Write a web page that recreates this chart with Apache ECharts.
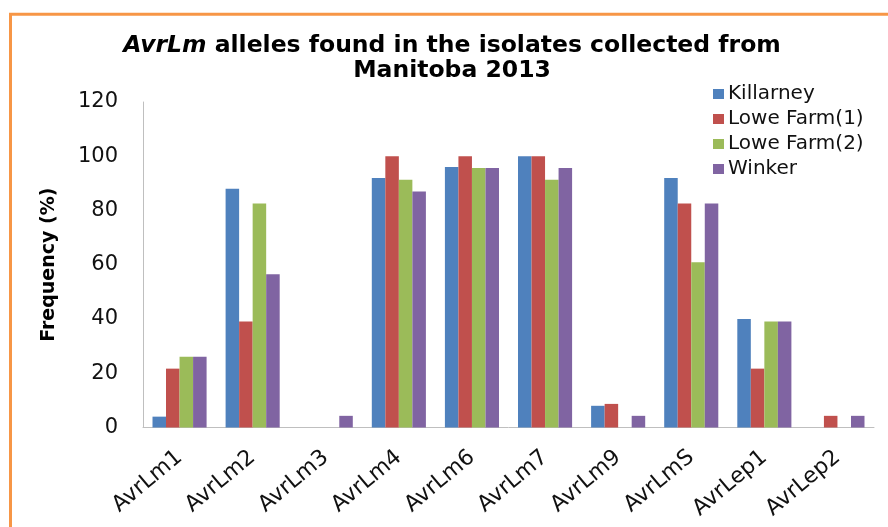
<!DOCTYPE html>
<html>
<head>
<meta charset="utf-8">
<script src="https://cdn.jsdelivr.net/npm/echarts@6/dist/echarts.min.js"></script>
<style>
html,body{margin:0;padding:0;background:#fff;}
#chart{width:888px;height:527px;}
</style>
</head>
<body>
<div id="chart"></div>
<script>
var categories = ['AvrLm1','AvrLm2','AvrLm3','AvrLm4','AvrLm6','AvrLm7','AvrLm9','AvrLmS','AvrLep1','AvrLep2'];
var seriesNames = ['Killarney','Lowe Farm(1)','Lowe Farm(2)','Winker'];
var killarney = [4, 88, 0, 92, 96, 100, 8, 92, 40, 0];
var loweFarm1 = [21.7, 39.1, 0, 100, 100, 100, 8.7, 82.6, 21.7, 4.3];
var loweFarm2 = [26.1, 82.6, 0, 91.3, 95.7, 91.3, 0, 60.9, 39.1, 0];
var winker = [26.1, 56.5, 4.3, 87, 95.7, 95.7, 4.3, 82.6, 39.1, 4.3];
var yTicks = {min: 0, max: 120, interval: 20};
var colors = ['#4F81BD','#C0504D','#9BBB59','#8064A2'];

var FONT = 'DejaVu Sans';
var allValues = [killarney, loweFarm1, loweFarm2, winker];
var chart = echarts.init(document.getElementById('chart'), null, {renderer: 'canvas'});
chart.setOption({
  backgroundColor: '#ffffff',
  animation: false,
  color: colors,
  graphic: [{
    type: 'rect',
    shape: {x: 10.5, y: 14.2, width: 1000, height: 700},
    style: {fill: 'none', stroke: '#F79646', lineWidth: 3},
    silent: true
  }],
  title: {
    text: '{i|AvrLm} alleles found in the isolates collected from\nManitoba 2013',
    left: 452,
    top: 33,
    textAlign: 'center',
    padding: 0,
    textStyle: {
      fontFamily: FONT,
      fontWeight: 'bold',
      fontSize: 23.5,
      lineHeight: 25,
      color: '#000',
      rich: {
        i: {fontFamily: FONT, fontWeight: 'bold', fontStyle: 'italic', fontSize: 23.5, lineHeight: 25, color: '#000'}
      }
    }
  },
  legend: {
    orient: 'vertical',
    left: 713,
    top: 84,
    padding: 0,
    itemWidth: 11,
    itemHeight: 10,
    itemGap: 5,
    icon: 'rect',
    textStyle: {fontFamily: FONT, fontSize: 20, lineHeight: 20, color: '#111', padding: [0,0,0,-1]},
    data: seriesNames
  },
  grid: {left: 143, right: 14, top: 102, bottom: 99.5, containLabel: false},
  xAxis: {
    type: 'category',
    data: categories,
    axisLine: {show: true, lineStyle: {color: '#BFBFBF', width: 1}},
    axisTick: {show: false},
    axisLabel: {
      interval: 0,
      rotate: 40,
      margin: 27,
      fontFamily: FONT,
      fontSize: 22,
      color: '#111'
    }
  },
  yAxis: {
    type: 'value',
    min: yTicks.min,
    max: yTicks.max,
    interval: yTicks.interval,
    name: 'Frequency (%)',
    nameLocation: 'middle',
    nameRotate: 90,
    nameGap: 84,
    nameTextStyle: {fontFamily: FONT, fontWeight: 'bold', fontSize: 19, color: '#000'},
    axisLine: {show: true, lineStyle: {color: '#BFBFBF', width: 1}},
    axisTick: {show: false},
    splitLine: {show: false},
    axisLabel: {fontFamily: FONT, fontSize: 21, color: '#111', margin: 25}
  },
  series: seriesNames.map(function (n, i) {
    return {
      name: n,
      type: 'bar',
      data: allValues[i],
      barGap: '0%',
      barCategoryGap: '26%',
      itemStyle: {color: colors[i]}
    };
  })
});
</script>
</body>
</html>
